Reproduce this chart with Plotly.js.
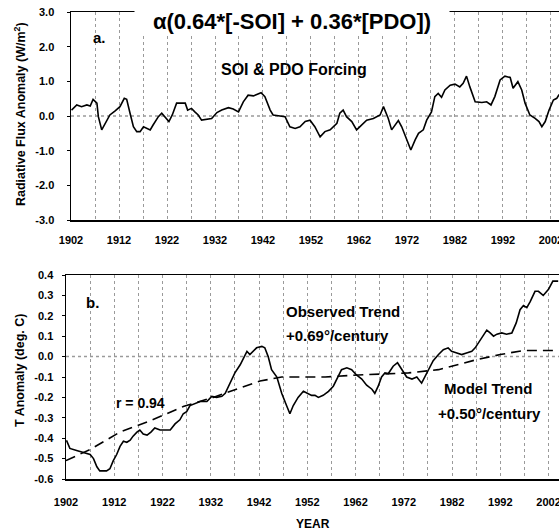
<!DOCTYPE html>
<html>
<head>
<meta charset="utf-8">
<script src="https://cdn.plot.ly/plotly-3.0.1.min.js"></script>
<style>html,body{margin:0;padding:0;background:#fff;}#chart{width:559px;height:531px;}</style>
</head>
<body>
<div id="chart"></div>
<script>
// Panel a: radiative flux forcing
const yearsA = [1902.1,1903.2,1904.2,1905.3,1906.0,1906.6,1907.4,1907.7,1908.4,1909.1,1910.1,1911.2,1912.2,1913.1,1913.6,1914.3,1915.0,1915.7,1916.4,1917.1,1917.8,1918.5,1919.1,1920.2,1920.9,1921.6,1922.4,1923.1,1924.0,1925.1,1925.8,1926.3,1927.1,1927.8,1928.5,1929.2,1930.3,1931.3,1932.4,1933.4,1934.8,1935.8,1936.9,1937.9,1938.9,1940.0,1940.7,1941.6,1942.4,1943.5,1944.1,1945.2,1946.6,1947.6,1948.7,1949.7,1950.8,1951.8,1952.8,1953.9,1954.9,1956.0,1957.4,1958.0,1958.7,1959.4,1960.5,1961.5,1962.6,1963.6,1965.0,1966.4,1967.1,1967.6,1968.1,1968.8,1969.5,1970.2,1970.9,1971.6,1972.3,1972.8,1973.7,1974.4,1975.4,1976.1,1977.1,1977.8,1978.5,1979.2,1979.9,1981.0,1982.0,1983.0,1983.7,1984.4,1985.1,1986.2,1987.6,1988.6,1989.5,1990.3,1991.4,1992.4,1993.5,1994.1,1995.1,1995.9,1996.6,1997.6,1998.7,1999.5,2000.1,2000.8,2001.6,2002.5,2003.2,2003.7];
const fluxA = [0.17,0.32,0.27,0.32,0.29,0.48,0.37,-0.02,-0.40,-0.21,0.03,0.15,0.27,0.51,0.48,0.08,-0.31,-0.45,-0.45,-0.31,-0.36,-0.40,-0.26,-0.02,0.08,-0.02,-0.16,0.03,0.37,0.37,0.37,0.17,0.22,0.12,0.03,-0.12,-0.09,-0.07,0.10,0.17,0.24,0.20,0.12,0.41,0.60,0.58,0.62,0.67,0.56,0.17,0.03,0.00,-0.02,-0.31,-0.36,-0.31,-0.16,-0.12,-0.31,-0.60,-0.45,-0.40,-0.21,0.08,0.17,-0.02,-0.16,-0.40,-0.26,-0.12,-0.07,0.03,0.27,0.10,-0.07,-0.40,-0.26,-0.13,-0.31,-0.55,-0.79,-0.98,-0.69,-0.50,-0.40,-0.12,0.12,0.56,0.65,0.54,0.75,0.89,0.92,0.84,0.94,1.15,0.84,0.41,0.39,0.41,0.32,0.56,1.04,1.15,1.11,0.80,0.99,0.75,0.37,0.03,-0.07,-0.16,-0.31,-0.16,0.17,0.46,0.51,0.62];

// Panel b: observed temperature anomaly
const yearsB = [1902.1,1902.8,1904.2,1905.6,1907.0,1907.7,1908.4,1909.0,1910.4,1911.1,1911.8,1912.5,1913.2,1913.9,1914.6,1915.3,1915.9,1916.7,1917.3,1918.0,1918.8,1919.6,1920.4,1921.5,1922.5,1923.6,1924.6,1925.6,1926.3,1927.0,1927.7,1928.7,1929.8,1931.2,1932.2,1933.2,1934.3,1935.0,1936.0,1937.0,1938.1,1939.1,1939.5,1940.1,1940.8,1941.5,1942.6,1943.2,1943.9,1944.6,1945.7,1946.7,1947.7,1948.4,1949.1,1950.1,1951.2,1951.9,1952.9,1953.6,1954.3,1955.3,1956.4,1957.4,1958.4,1959.1,1960.2,1961.2,1962.2,1963.3,1964.3,1965.4,1966.0,1966.7,1967.4,1968.1,1968.8,1969.8,1970.7,1971.6,1972.6,1973.7,1974.7,1975.7,1976.4,1977.1,1978.1,1979.2,1980.2,1981.2,1981.9,1983.0,1984.0,1985.0,1986.1,1986.8,1987.5,1988.5,1989.2,1989.9,1990.6,1991.3,1992.3,1993.3,1994.4,1995.3,1996.1,1996.8,1997.5,1998.2,1999.2,1999.9,2000.9,2002.0,2002.9,2004.0];
const tempObs = [-0.41,-0.45,-0.46,-0.47,-0.48,-0.50,-0.54,-0.56,-0.56,-0.55,-0.51,-0.48,-0.44,-0.415,-0.42,-0.41,-0.39,-0.37,-0.36,-0.38,-0.385,-0.37,-0.35,-0.36,-0.36,-0.36,-0.33,-0.31,-0.28,-0.27,-0.24,-0.23,-0.22,-0.22,-0.195,-0.20,-0.195,-0.18,-0.13,-0.08,-0.04,0.01,0.026,0.01,0.026,0.043,0.05,0.043,0.0,-0.064,-0.10,-0.18,-0.24,-0.28,-0.24,-0.20,-0.17,-0.18,-0.19,-0.19,-0.20,-0.19,-0.17,-0.145,-0.10,-0.064,-0.055,-0.064,-0.09,-0.11,-0.14,-0.16,-0.18,-0.145,-0.10,-0.08,-0.083,-0.047,-0.03,-0.064,-0.10,-0.11,-0.10,-0.13,-0.10,-0.07,-0.02,0.01,0.034,0.043,0.026,0.018,0.01,0.018,0.026,0.043,0.067,0.10,0.13,0.116,0.10,0.11,0.116,0.11,0.116,0.165,0.23,0.25,0.24,0.27,0.32,0.32,0.30,0.33,0.37,0.37];

// Panel b: model trend
const yearsM = [1902,1907,1913.2,1919.4,1926.3,1932.5,1936.7,1942.2,1946.7,1952.2,1955.7,1962.6,1969.5,1973,1979.2,1983,1987.1,1992,1996.8,2000.2,2004];
const tempModel = [-0.51,-0.455,-0.37,-0.315,-0.245,-0.20,-0.165,-0.12,-0.10,-0.10,-0.10,-0.09,-0.085,-0.08,-0.064,-0.04,-0.015,0.01,0.03,0.03,0.03];

const tickYearsLabels = ['1902','1912','1922','1932','1942','1952','1962','1972','1982','1992','2002'];
const tickYears = tickYearsLabels.map(Number);
const yTicksA = [-3,-2,-1,0,1,2,3];
const yTicksALabels = ['-3.0','-2.0','-1.0','0.0','1.0','2.0','3.0'];
const yTicksB = [-0.6,-0.5,-0.4,-0.3,-0.2,-0.1,0,0.1,0.2,0.3,0.4];
const yTicksBLabels = ['-0.6','-0.5','-0.4','-0.3','-0.2','-0.1','0.0','0.1','0.2','0.3','0.4'];

const W = 559, H = 531;
const px = x => x / W;
const py = y => 1 - y / H;

const FONT = 'Liberation Sans, Arial, sans-serif';
const tickFont = {family: FONT, size: 11, color: '#000', weight: 700};

const traces = [
  {x: yearsA, y: fluxA, xaxis: 'x', yaxis: 'y', mode: 'lines', line: {color: '#000', width: 1.6}, hoverinfo: 'skip'},
  {x: yearsB, y: tempObs, xaxis: 'x2', yaxis: 'y2', mode: 'lines', line: {color: '#000', width: 1.6}, hoverinfo: 'skip'},
  {x: yearsM, y: tempModel, xaxis: 'x2', yaxis: 'y2', mode: 'lines', line: {color: '#000', width: 1.6, dash: '10px,6px'}, hoverinfo: 'skip'}
];

const xCommon = {
  tickmode: 'array', tickvals: tickYears, ticktext: tickYearsLabels,
  showgrid: true, gridcolor: '#9a9a9a', griddash: 'dot', gridwidth: 1,
  minor: {dtick: 5, tick0: 1902, showgrid: true, gridcolor: '#9a9a9a', griddash: 'dot', gridwidth: 1},
  showline: true, linecolor: '#000', linewidth: 1.5, mirror: true,
  ticks: '', tickfont: tickFont, zeroline: false, ticklabeloverflow: 'allow'
};
const yCommon = {
  showgrid: false, zeroline: false, showline: true, linecolor: '#000', linewidth: 1.5,
  ticks: 'outside', ticklen: 3, tickcolor: '#000', tickfont: tickFont, tickmode: 'array'
};

const layout = {
  width: W, height: H,
  margin: {l: 0, r: 0, t: 0, b: 0},
  paper_bgcolor: '#fff', plot_bgcolor: '#fff',
  showlegend: false,
  xaxis: Object.assign({}, xCommon, {domain: [px(71), 1], range: [1902, 2003.67], anchor: 'y', ticklabelstandoff: 9}),
  yaxis: Object.assign({}, yCommon, {domain: [py(220), py(12)], range: [-3, 3], tickvals: yTicksA, ticktext: yTicksALabels, anchor: 'x', ticklabelstandoff: 10}),
  xaxis2: Object.assign({}, xCommon, {domain: [px(66), 1], range: [1902, 2004.17], anchor: 'y2', ticklabelstandoff: 12}),
  yaxis2: Object.assign({}, yCommon, {domain: [py(479), py(275)], range: [-0.6, 0.4], tickvals: yTicksB, ticktext: yTicksBLabels, anchor: 'x2', ticklabelstandoff: 6}),
  shapes: [
    {type: 'line', xref: 'x domain', yref: 'y', x0: 0, x1: 1, y0: 0, y1: 0, line: {color: '#9a9a9a', width: 1.5, dash: 'dot'}, layer: 'below'},
    {type: 'line', xref: 'x2 domain', yref: 'y2', x0: 0, x1: 1, y0: 0, y1: 0, line: {color: '#9a9a9a', width: 1.5, dash: 'dot'}, layer: 'below'}
  ],
  annotations: [
    {text: 'α(0.64*[-SOI] + 0.36*[PDO])', xref: 'paper', yref: 'paper', x: px(292), y: py(22), xanchor: 'center', yanchor: 'middle', showarrow: false, bgcolor: '#fff', width: 312, font: {family: FONT, size: 22, color: '#000', weight: 700}},
    {text: 'a.', xref: 'paper', yref: 'paper', x: px(99), y: py(38), xanchor: 'center', yanchor: 'middle', showarrow: false, font: {family: FONT, size: 15, color: '#000', weight: 700}},
    {text: 'SOI & PDO Forcing', xref: 'paper', yref: 'paper', x: px(294), y: py(69), xanchor: 'center', yanchor: 'middle', showarrow: false, font: {family: FONT, size: 16, color: '#000', weight: 700}},
    {text: 'Radiative Flux Anomaly (W/m<sup>2</sup>)', xref: 'paper', yref: 'paper', x: px(20), y: py(114), xanchor: 'center', yanchor: 'middle', textangle: -90, showarrow: false, font: {family: FONT, size: 12.5, color: '#000', weight: 700}},
    {text: 'b.', xref: 'paper', yref: 'paper', x: px(92), y: py(302), xanchor: 'center', yanchor: 'middle', showarrow: false, font: {family: FONT, size: 15, color: '#000', weight: 700}},
    {text: 'r = 0.94', xref: 'paper', yref: 'paper', x: px(140), y: py(403), xanchor: 'center', yanchor: 'middle', showarrow: false, font: {family: FONT, size: 14, color: '#000', weight: 700}},
    {text: 'Observed Trend', xref: 'paper', yref: 'paper', x: px(284), y: py(311), xanchor: 'left', yanchor: 'middle', showarrow: false, font: {family: FONT, size: 15, color: '#000', weight: 700}},
    {text: '+0.69°/century', xref: 'paper', yref: 'paper', x: px(284), y: py(335), xanchor: 'left', yanchor: 'middle', showarrow: false, font: {family: FONT, size: 15, color: '#000', weight: 700}},
    {text: 'Model Trend', xref: 'paper', yref: 'paper', x: px(442), y: py(388), xanchor: 'left', yanchor: 'middle', showarrow: false, font: {family: FONT, size: 15, color: '#000', weight: 700}},
    {text: '+0.50°/century', xref: 'paper', yref: 'paper', x: px(436), y: py(413), xanchor: 'left', yanchor: 'middle', showarrow: false, font: {family: FONT, size: 15, color: '#000', weight: 700}},
    {text: 'T Anomaly (deg. C)', xref: 'paper', yref: 'paper', x: px(20), y: py(371), xanchor: 'center', yanchor: 'middle', textangle: -90, showarrow: false, font: {family: FONT, size: 12.5, color: '#000', weight: 700}},
    {text: 'YEAR', xref: 'paper', yref: 'paper', x: px(313), y: py(524), xanchor: 'center', yanchor: 'middle', showarrow: false, font: {family: FONT, size: 12, color: '#000', weight: 700}}
  ]
};

Plotly.newPlot('chart', traces, layout, {displayModeBar: false, staticPlot: true});
</script>
</body>
</html>
